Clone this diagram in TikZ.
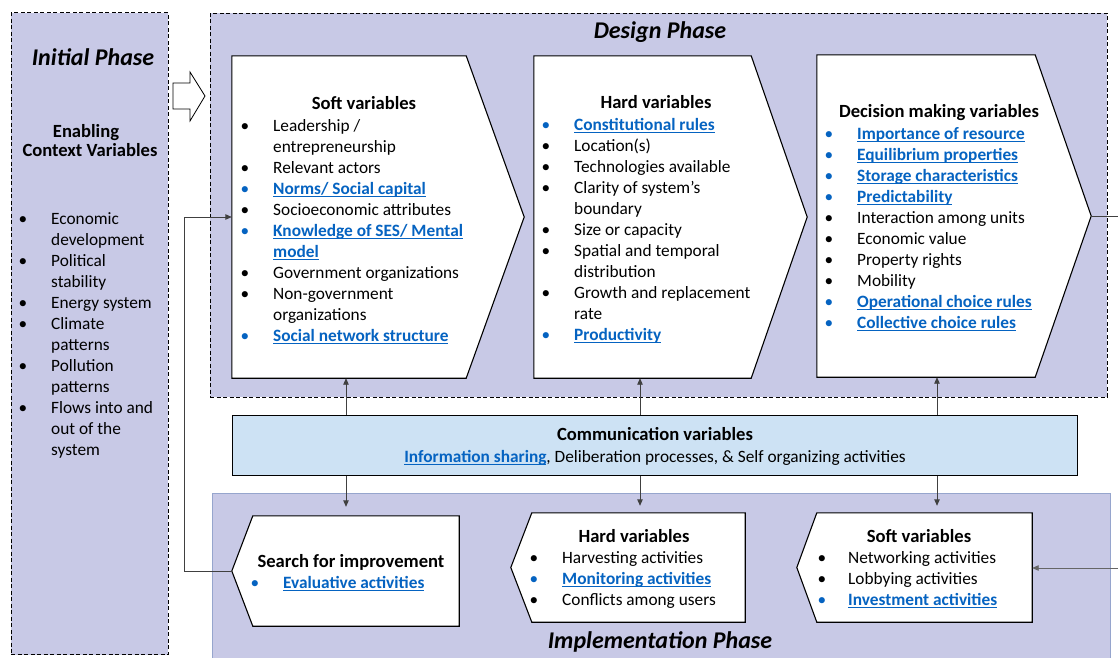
\documentclass[tikz,border=0pt]{standalone}
\usepackage{fontspec}
\setmainfont{Carlito}
\usetikzlibrary{arrows.meta,calc}
\definecolor{phasefill}{RGB}{200,201,230}
\definecolor{commfill}{RGB}{205,226,244}
\definecolor{lnk}{RGB}{5,99,193}
\definecolor{implborder}{RGB}{150,165,205}
\newcommand\fb{\fontsize{17.3}{21}\selectfont}
\newcommand\fh{\fontsize{18.6}{22}\selectfont\bfseries}
\newcommand\ft{\fontsize{24}{28}\selectfont\bfseries\itshape}
\newcommand\lnkt[1]{{\color{lnk}\bfseries\setbox0\hbox{#1}\rlap{\rule[-2.6pt]{\wd0}{1.1pt}}\box0}}
\newcounter{ln}
\tikzset{
  phasebox/.style={draw=black, dash pattern=on 4pt off 2.5pt, fill=phasefill, line width=0.9pt, inner sep=0},
  shapebox/.style={draw=black, fill=white, line width=1.1pt},
  boxbody/.style={draw=none, inner sep=0},
  txt/.style={inner sep=0, anchor=base west, font=\fb},
  hdr/.style={inner sep=0, anchor=base, font=\fh},
  ttl/.style={inner sep=0, anchor=base, font=\ft},
  conn/.style={draw=black!75, line width=0.9pt, -{Triangle[length=6.5pt,width=5.5pt]}},
}
% #1 bullet x, #2 text x, #3 baseline y, #4 bullet colour, #5 text
\newcommand\itm[5]{\stepcounter{ln}%
  \node[txt,anchor=base,text=#4] (B\theln) at (#1,#3) {\textbullet};%
  \node[txt] (T\theln) at (#2,#3) {#5};}
\newcommand\cnt[3]{\stepcounter{ln}\node[txt] (T\theln) at (#1,#2) {#3};}
\begin{document}
\begin{tikzpicture}[x=1pt,y=-1pt]
\useasboundingbox (0,0) rectangle (1118,657);
\fill[white] (0,0) rectangle (1118,657);

% phase containers
\node[phasebox, minimum width=157, minimum height=642] (ip) at (89.5,333.5) {};
\node[phasebox, minimum width=897, minimum height=384] (dp) at (658.5,205) {};
\node[draw=implborder, fill=phasefill, line width=0.9pt, inner sep=0, minimum width=898, minimum height=172] (impl) at (661,579) {};

% hollow arrow
\draw[black, fill=white, line width=0.8pt] (173,83) -- (190,83) -- (190,72) -- (205,96) -- (190,121) -- (190,109) -- (173,109) -- cycle;

% design boxes
\node[boxbody, minimum width=234, minimum height=322] (sd) at (349,217) {};
\node[boxbody, minimum width=217, minimum height=322] (hd) at (642.5,217) {};
\node[boxbody, minimum width=218, minimum height=322] (dd) at (926,216) {};
\draw[shapebox] (sd.north west) -- (sd.north east) -- ($(sd.east)+(58,0)$) -- (sd.south east) -- (sd.south west) -- cycle;
\draw[shapebox] (hd.north west) -- (hd.north east) -- ($(hd.east)+(56,0)$) -- (hd.south east) -- (hd.south west) -- cycle;
\draw[shapebox] (dd.north west) -- (dd.north east) -- ($(dd.east)+(56,0)$) -- (dd.south east) -- (dd.south west) -- cycle;
\coordinate (ddTip) at ($(dd.east)+(56,0)$);

% communication
\node[draw=black, fill=commfill, line width=1pt, inner sep=0, minimum width=845, minimum height=60] (comm) at (654.5,445) {};

% implementation boxes
\node[boxbody, minimum width=206, minimum height=110] (si) at (356,571) {};
\node[boxbody, minimum width=213, minimum height=109] (hi) at (638.5,567.5) {};
\node[boxbody, minimum width=215, minimum height=109] (ssi) at (924.5,567.5) {};
\draw[shapebox] (si.north east) -- (si.north west) -- ($(si.west)+(-21,0)$) -- (si.south west) -- (si.south east) -- cycle;
\draw[shapebox] (hi.north east) -- (hi.north west) -- ($(hi.west)+(-21,0)$) -- (hi.south west) -- (hi.south east) -- cycle;
\draw[shapebox] (ssi.north east) -- (ssi.north west) -- ($(ssi.west)+(-20,0)$) -- (ssi.south west) -- (ssi.south east) -- cycle;
\coordinate (siTip) at ($(si.west)+(-21,0)$);

% connectors
\coordinate (lp) at (184,0);
\coordinate (a1) at (346,0);
\coordinate (a2) at (640,0);
\coordinate (a3) at (937,0);
\coordinate (rEdge) at (1118,216);
\coordinate (rIn) at (1118,568);
\draw[conn] (siTip) -- (siTip -| lp) -- (sd.west -| lp) -- (sd.west);
\draw[conn] (comm.north -| a1) -- (sd.south -| a1);
\draw[conn] (comm.north -| a2) -- (hd.south -| a2);
\draw[conn] (comm.north -| a3) -- (dd.south -| a3);
\draw[conn, shorten >=9pt] (comm.south -| a1) -- (si.north -| a1);
\draw[conn, shorten >=7pt] (comm.south -| a2) -- (hi.north -| a2);
\draw[conn, shorten >=7pt] (comm.south -| a3) -- (ssi.north -| a3);
\draw[draw=black!75, line width=0.9pt] (ddTip) -- (rEdge);
\draw[conn, draw=black!60] (rIn) -- (ssi.east |- rIn);

% titles
\node[ttl] (tI) at (93,65) {Initial Phase};
\node[ttl] (tD) at (660,38) {Design Phase};
\node[ttl] (tM) at (660,648) {Implementation Phase};

% initial phase text
\node[hdr] (hI1) at (86,137) {Enabling};
\node[hdr] (hI2) at (90,156) {Context Variables};
\itm{23}{51}{224}{black}{Economic}
\cnt{51}{245}{development}
\itm{23}{51}{266}{black}{Political}
\cnt{51}{287}{stability}
\itm{23}{51}{308}{black}{Energy system}
\itm{23}{51}{329}{black}{Climate}
\cnt{51}{350}{patterns}
\itm{23}{51}{371}{black}{Pollution}
\cnt{51}{392}{patterns}
\itm{23}{51}{413}{black}{Flows into and}
\cnt{51}{434}{out of the}
\cnt{51}{455}{system}

% soft variables (design)
\node[hdr] (hS) at (364,109) {Soft variables};
\itm{245}{273}{131}{black}{Leadership /}
\cnt{273}{152}{entrepreneurship}
\itm{245}{273}{173}{black}{Relevant actors}
\itm{245}{273}{194}{lnk}{\lnkt{Norms/ Social capital}}
\itm{245}{273}{215}{black}{Socioeconomic attributes}
\itm{245}{273}{236}{lnk}{\lnkt{Knowledge of SES/ Mental}}
\cnt{273}{257}{\lnkt{model}}
\itm{245}{273}{278}{black}{Government organizations}
\itm{245}{273}{299}{black}{Non-government}
\cnt{273}{320}{organizations}
\itm{245}{273}{341}{lnk}{\lnkt{Social network structure}}

% hard variables (design)
\node[hdr] (hH) at (656,108) {Hard variables};
\itm{546}{574}{130}{lnk}{\lnkt{Constitutional rules}}
\itm{546}{574}{151}{black}{Location(s)}
\itm{546}{574}{172}{black}{Technologies available}
\itm{546}{574}{193}{black}{Clarity of system’s}
\cnt{574}{214}{boundary}
\itm{546}{574}{235}{black}{Size or capacity}
\itm{546}{574}{256}{black}{Spatial and temporal}
\cnt{574}{277}{distribution}
\itm{546}{574}{298}{black}{Growth and replacement}
\cnt{574}{319}{rate}
\itm{546}{574}{340}{lnk}{\lnkt{Productivity}}

% decision making variables
\node[hdr] (hDM) at (939,117) {Decision making variables};
\itm{829}{857}{139}{lnk}{\lnkt{Importance of resource}}
\itm{829}{857}{160}{lnk}{\lnkt{Equilibrium properties}}
\itm{829}{857}{181}{lnk}{\lnkt{Storage characteristics}}
\itm{829}{857}{202}{lnk}{\lnkt{Predictability}}
\itm{829}{857}{223}{black}{Interaction among units}
\itm{829}{857}{244}{black}{Economic value}
\itm{829}{857}{265}{black}{Property rights}
\itm{829}{857}{286}{black}{Mobility}
\itm{829}{857}{307}{lnk}{\lnkt{Operational choice rules}}
\itm{829}{857}{328}{lnk}{\lnkt{Collective choice rules}}

% communication text
\node[hdr] (hC) at (655,440) {Communication variables};
\node[txt, anchor=base] (tC) at (655,462) {\lnkt{Information sharing}, Deliberation processes, \& Self organizing activities};

% search for improvement
\node[hdr] (hSI) at (351,567) {Search for improvement};
\itm{255}{283}{588}{lnk}{\lnkt{Evaluative activities}}

% hard variables (implementation)
\node[hdr] (hHI) at (634,542) {Hard variables};
\itm{534}{562}{563}{black}{Harvesting activities}
\itm{534}{562}{584}{lnk}{\lnkt{Monitoring activities}}
\itm{534}{562}{605}{black}{Conflicts among users}

% soft variables (implementation)
\node[hdr] (hSSI) at (919,542) {Soft variables};
\itm{822}{848}{563}{black}{Networking activities}
\itm{822}{848}{584}{black}{Lobbying activities}
\itm{822}{848}{605}{lnk}{\lnkt{Investment activities}}
\end{tikzpicture}
\end{document}
